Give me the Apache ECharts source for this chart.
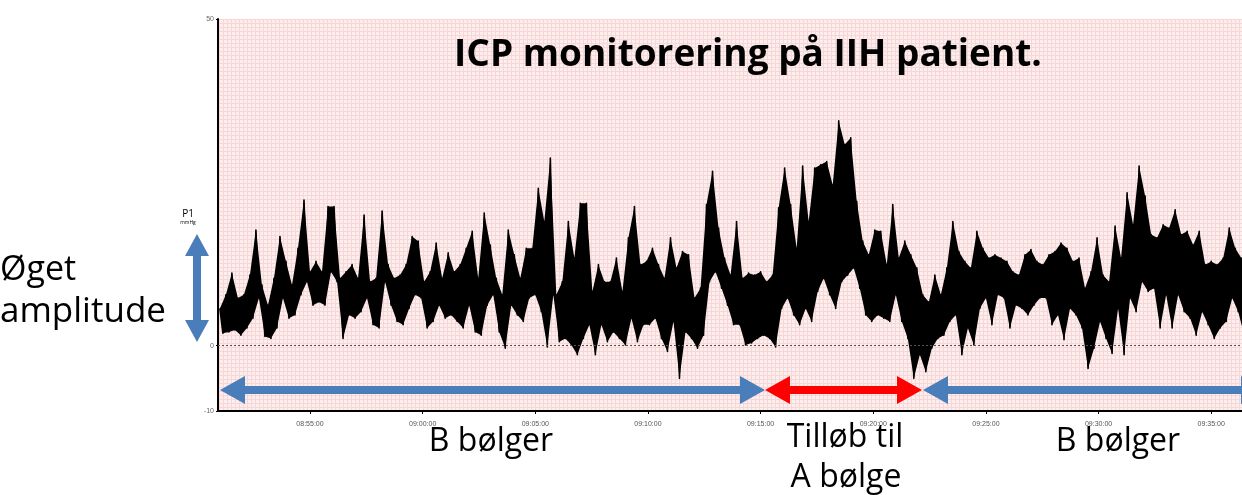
<!DOCTYPE html>
<html>
<head>
<meta charset="utf-8">
<script src="https://cdn.jsdelivr.net/npm/echarts@6/dist/echarts.min.js"></script>
<style>
html, body { margin: 0; padding: 0; background: #fff; }
#icp-chart { width: 1242px; height: 495px; }
</style>
</head>
<body>
<div id="icp-chart"></div>
<script>
// trace: top and bottom of the band every 16 s from 08:51:00
var startSec = 8 * 3600 + 51 * 60;
var stepSec = 16;

var peakVals = [
    5.7, 7.8, 11.1, 7.3, 7.8, 10.8, 17.7, 9.3, 6.2, 10.3, 16.7, 12.9, 9.3, 14.9, 22.3, 11.3, 12.9, 11.3, 21.3, 21.3, 10.3, 11.3,
    12.4, 10.3, 20.0, 9.8, 10.3, 20.6, 12.4, 10.3, 10.8, 12.4, 16.7, 16.0, 9.8, 11.3, 15.7, 10.3, 14.2, 11.3, 12.4, 14.9, 17.5, 10.3,
    20.3, 15.4, 10.3, 7.8, 17.7, 13.9, 10.3, 14.9, 14.9, 24.1, 19.0, 28.7, 7.8, 9.8, 19.0, 13.4, 21.8, 21.8, 8.3, 12.4, 9.8, 9.8,
    13.4, 8.3, 16.5, 21.3, 12.4, 12.9, 14.9, 12.4, 10.3, 16.5, 11.9, 14.4, 13.9, 7.3, 8.8, 21.6, 26.7, 18.0, 13.4, 10.8, 19.0, 10.3,
    11.1, 10.8, 11.3, 9.8, 10.8, 21.1, 27.2, 21.6, 14.9, 27.5, 19.0, 27.2, 27.7, 28.2, 24.6, 34.4, 30.8, 31.8, 22.1, 16.0, 13.9, 17.7,
    17.5, 12.4, 21.6, 13.4, 16.0, 13.9, 11.9, 7.8, 6.7, 10.8, 7.8, 11.9, 19.0, 14.4, 12.9, 11.9, 17.5, 14.9, 13.4, 13.9, 13.4,
    12.9, 11.3, 10.8, 13.9, 14.7, 12.9, 12.4, 13.9, 14.4, 15.7, 14.9, 12.9, 13.4, 8.8, 11.3, 16.5, 10.8, 9.8, 18.3, 13.4,
    23.4, 18.5, 27.5, 22.9, 17.0, 16.5, 18.5, 18.0, 20.8, 17.0, 17.5, 15.4, 17.5, 12.4, 12.9, 12.4, 13.4, 18.0, 14.9, 13.4
];
var troughVals = [
    1.9, 2.1, 2.4, 1.6, 2.7, 4.2, 7.3, 1.4, 1.1, 2.7, 7.3, 4.2, 4.7, 7.8, 9.8, 6.2, 6.7, 6.2, 11.3, 9.8, 1.1, 4.7,
    4.2, 5.2, 7.3, 3.2, 2.7, 9.8, 6.2, 3.7, 3.2, 5.7, 7.8, 7.3, 2.7, 3.7, 6.2, 4.2, 4.7, 3.7, 2.7, 6.2, 2.1, 1.6,
    6.2, 7.8, 2.1, -0.4, 6.2, 4.7, 3.7, 7.3, 7.8, 5.2, -0.2, 7.8, 0.6, 1.1, 0.1, -1.4, 1.1, 3.2, -1.4, 3.2, 0.6, 2.1,
    1.1, 0.1, 4.2, 0.6, 3.2, 3.2, 4.2, 1.1, -0.9, 3.7, -5.0, 2.1, 1.1, -0.4, 1.6, 9.8, 11.3, 8.8, 6.2, 3.2, 3.2, 0.1,
    0.4, 1.1, 1.6, 1.1, -0.2, 5.7, 7.3, 4.7, 3.2, 5.7, 3.7, 8.3, 10.3, 7.8, 5.7, 9.8, 10.8, 11.9, 8.8, 4.7, 3.7, 4.7,
    4.2, 3.7, 7.8, 3.7, 1.1, -5.0, -1.4, -4.0, -0.4, 1.1, 1.6, 3.7, 4.7, -1.4, 2.7, 0.1, 5.7, 7.3, 3.2, 7.8, 7.3,
    2.7, 6.2, 5.7, 4.7, 6.2, 7.3, 7.3, 3.2, 4.7, 0.9, 5.7, 4.7, 2.7, -3.5, -0.4, 3.7, 1.1, -1.2, 5.7, -1.4,
    7.3, 5.2, 9.8, 8.3, 8.8, 2.7, 7.8, 2.7, 7.8, 5.2, 4.2, 1.6, 5.2, 3.2, 1.1, 2.7, 3.7, 7.3, 5.2, 1.6
];

// 08:55:00 ... 09:35:00
var timeTicks = [32100, 32400, 32700, 33000, 33300, 33600, 33900, 34200, 34500];
var yTicks = [-10, 0, 50];

var chart = echarts.init(document.getElementById("icp-chart"));

function pad(n) {
    return (n < 10 ? "0" : "") + n;
}
function fmtTime(sec) {
    var h = Math.floor(sec / 3600), m = Math.floor((sec % 3600) / 60), s = Math.round(sec % 60);
    return pad(h) + ":" + pad(m) + ":" + pad(s);
}

// pink recorder paper
var paper = document.createElement("canvas");
paper.width = 4;
paper.height = 4;
var ctx = paper.getContext("2d");
ctx.fillStyle = "#fdeeee";
ctx.fillRect(0, 0, 4, 4);
ctx.fillStyle = "#f6d6d6";
ctx.fillRect(3, 0, 1, 4);
ctx.fillRect(0, 3, 4, 1);

// zigzag: top of the band at t, bottom half a step later
var tracePts = [];
var bandRows = [];
for (var i = 0; i < peakVals.length; i++) {
    var t = startSec + i * stepSec;
    tracePts.push([t, peakVals[i]]);
    tracePts.push([t + stepSec / 2, troughVals[i]]);
    bandRows.push([t, peakVals[i], troughVals[i]]);
}

// solid black mass between the upper and lower edge of the trace
function renderBand(params, api) {
    if (params.dataIndex !== 0) return null;
    var upper = [], lower = [];
    for (var k = 0; k < bandRows.length; k++) {
        upper.push(api.coord([bandRows[k][0], bandRows[k][1]]));
        lower.unshift(api.coord([bandRows[k][0] + stepSec / 2, bandRows[k][2]]));
    }
    return {
        type: "polygon",
        shape: { points: upper.concat(lower) },
        style: { fill: "#000" }
    };
}

var blue = "#4a7ebb";
var red = "#ff0000";

// horizontal double arrow, x1 < x2, centred on y
function hArrow(x1, x2, y, color) {
    var hl = 25, hw = 14, sw = 4;
    return {
        type: "polygon",
        shape: {
            points: [
                [x1, y], [x1 + hl, y - hw], [x1 + hl, y - sw], [x2 - hl, y - sw], [x2 - hl, y - hw],
                [x2, y], [x2 - hl, y + hw], [x2 - hl, y + sw], [x1 + hl, y + sw], [x1 + hl, y + hw]
            ]
        },
        style: { fill: color },
        z: 100
    };
}
function vArrow(x, y1, y2, color) {
    var hl = 22, hw = 12, sw = 4;
    return {
        type: "polygon",
        shape: {
            points: [
                [x, y1], [x + hw, y1 + hl], [x + sw, y1 + hl], [x + sw, y2 - hl], [x + hw, y2 - hl],
                [x, y2], [x - hw, y2 - hl], [x - sw, y2 - hl], [x - sw, y1 + hl], [x - hw, y1 + hl]
            ]
        },
        style: { fill: color },
        z: 100
    };
}
function label(txt, x, y, size, align, weight) {
    return {
        type: "text",
        x: x,
        y: y,
        style: {
            text: txt,
            fill: "#000",
            font: (weight || "normal") + " " + size + "px 'Open Sans', sans-serif",
            textAlign: align || "center",
            textVerticalAlign: "middle"
        },
        z: 110
    };
}

var option = {
    animation: false,
    backgroundColor: "#fff",
    grid: {
        left: 218,
        right: 0,
        top: 19,
        bottom: 84,
        show: true,
        borderWidth: 0,
        backgroundColor: { image: paper, repeat: "repeat" }
    },
    xAxis: {
        type: "value",
        min: 31855,
        max: 34582,
        axisLine: { onZero: false, lineStyle: { color: "#000", width: 2 } },
        axisTick: { customValues: timeTicks, length: 3, lineStyle: { color: "#000" } },
        axisLabel: {
            customValues: timeTicks,
            formatter: fmtTime,
            fontSize: 7,
            color: "#555",
            margin: 10
        },
        splitLine: { show: false }
    },
    yAxis: {
        type: "value",
        min: -10,
        max: 50,
        axisLine: { show: true, onZero: false, lineStyle: { color: "#000", width: 2 } },
        axisTick: { customValues: yTicks, length: 2, lineStyle: { color: "#000" } },
        axisLabel: { customValues: yTicks, fontSize: 7, color: "#666", margin: 4 },
        splitLine: { show: false }
    },
    series: [
        {
            name: "band",
            type: "custom",
            data: bandRows,
            renderItem: renderBand,
            silent: true,
            z: 2
        },
        {
            name: "P1",
            type: "line",
            data: tracePts,
            showSymbol: false,
            symbol: "none",
            lineStyle: { color: "#000", width: 1.6, join: "round" },
            z: 3,
            markLine: {
                silent: true,
                symbol: "none",
                label: { show: false },
                lineStyle: { color: "#555", type: [2, 2], width: 1 },
                data: [{ yAxis: 0 }]
            }
        }
    ],
    graphic: [
        label("ICP monitorering på IIH patient.", 748, 55, 37, "center", "bold"),
        label("Øget", 0, 270, 34, "left"),
        label("amplitude", 0, 312, 35, "left"),
        label("P1", 188, 214, 10, "center"),
        label("mmHg", 188, 223, 5, "center"),
        vArrow(197, 234, 342, blue),
        hArrow(220, 765, 390, blue),
        hArrow(765, 922, 390, red),
        hArrow(923, 1266, 390, blue),
        label("B bølger", 491, 442, 32, "center"),
        label("Tilløb til", 845, 438, 32, "center"),
        label("A bølge", 846, 478, 32, "center"),
        label("B bølger", 1118, 442, 32, "center")
    ]
};
chart.setOption(option);
</script>
</body>
</html>
